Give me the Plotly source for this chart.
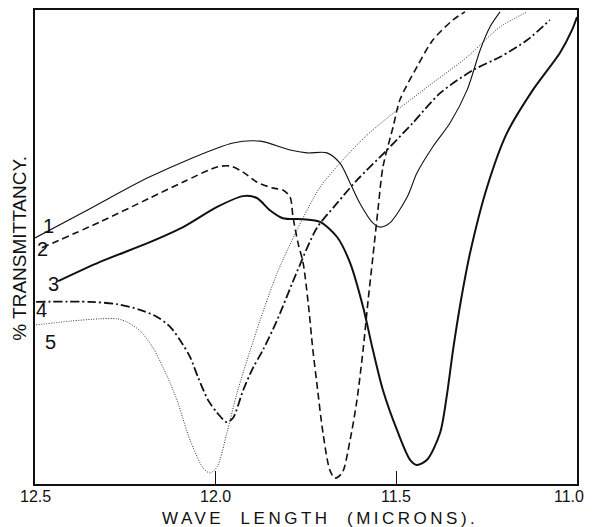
import plotly.graph_objects as go

# Wavelength (microns) and % transmittancy
x1 = [12.5, 12.348, 12.182, 11.952, 11.877, 11.794, 11.747, 11.692, 11.656, 11.628, 11.601,
      11.565, 11.545, 11.518, 11.470, 11.443, 11.399, 11.351, 11.304, 11.268, 11.241, 11.213]
y1 = [51.5, 57.7, 64.5, 71.7, 72.1, 70.2, 69.6, 69.6, 67.4, 63.2, 58.9,
      54.7, 53.8, 54.7, 60.2, 65.3, 70.9, 76.0, 83.0, 91.5, 96.4, 99.6]

x2 = [12.481, 12.320, 12.182, 12.090, 11.996, 11.960, 11.924, 11.886, 11.841, 11.814, 11.794,
      11.786, 11.772, 11.758, 11.744, 11.731, 11.720, 11.703, 11.684, 11.670, 11.650, 11.628,
      11.609, 11.592, 11.578, 11.565, 11.551, 11.537, 11.509, 11.490, 11.443, 11.399, 11.343, 11.310]
y2 = [49.4, 54.9, 60.0, 63.4, 66.6, 66.8, 65.5, 63.4, 62.1, 61.7, 60.2,
      56.0, 50.4, 46.2, 37.7, 27.7, 20.6, 10.0, 2.1, 0.4, 1.5, 8.5,
      17.0, 27.7, 38.3, 47.4, 57.4, 66.6, 75.1, 80.9, 87.9, 93.6, 97.9, 99.6]

x3 = [12.436, 12.320, 12.182, 12.090, 11.996, 11.924, 11.886, 11.850, 11.814, 11.758, 11.711,
      11.664, 11.628, 11.592, 11.565, 11.537, 11.498, 11.462, 11.443, 11.415, 11.379, 11.360,
      11.343, 11.321, 11.296, 11.249, 11.194, 11.122, 11.047, 11.014, 11.0]
y3 = [42.3, 46.4, 50.6, 53.8, 58.1, 60.4, 60.0, 57.4, 55.7, 55.5, 54.9,
      51.7, 46.2, 36.8, 27.7, 19.1, 10.6, 4.3, 3.2, 4.3, 10.0, 18.1,
      27.7, 38.3, 48.3, 62.3, 73.8, 83.0, 90.9, 95.7, 98.5]

x4 = [12.497, 12.348, 12.273, 12.209, 12.162, 12.126, 12.099, 12.071, 12.049, 12.021, 11.996,
      11.969, 11.952, 11.924, 11.897, 11.869, 11.830, 11.775, 11.720, 11.664, 11.609, 11.526,
      11.454, 11.379, 11.288, 11.213, 11.138, 11.075]
y4 = [37.9, 37.9, 37.4, 36.2, 34.7, 32.6, 29.8, 26.2, 21.9, 17.0, 14.3,
      12.3, 13.2, 19.1, 23.8, 27.7, 34.0, 44.3, 53.6, 58.9, 63.8, 70.2,
      76.0, 82.3, 87.2, 90.0, 93.6, 97.9]

x5 = [12.497, 12.403, 12.320, 12.273, 12.245, 12.209, 12.173, 12.146, 12.132, 12.107, 12.071,
      12.035, 12.016, 11.996, 11.969, 11.941, 11.913, 11.877, 11.830, 11.775, 11.711, 11.648,
      11.581, 11.498, 11.399, 11.304, 11.213, 11.138]
y5 = [33.0, 33.8, 34.3, 34.3, 33.6, 31.7, 28.1, 24.0, 21.7, 17.0, 8.5,
      2.6, 1.5, 2.8, 10.0, 18.5, 25.5, 34.0, 44.0, 53.2, 62.3, 68.1,
      73.4, 78.7, 84.5, 90.0, 96.4, 99.6]

curve_labels = ["1", "2", "3", "4", "5"]
label_x = [12.464, 12.478, 12.450, 12.481, 12.458]
label_y = [54.0, 49.1, 41.7, 36.2, 29.4]

tick_vals = [12.5, 12.0, 11.5, 11.0]
tick_text = ["12.5", "12.0", "11.5", "11.0"]

FONT = "Liberation Sans"
INK = "#111111"

series = [
    (x1, y1, dict(color=INK, width=1.1, dash="solid")),
    (x2, y2, dict(color=INK, width=1.6, dash="7px,4px")),
    (x3, y3, dict(color=INK, width=2.0, dash="solid")),
    (x4, y4, dict(color=INK, width=1.8, dash="9px,3px,2px,3px")),
    (x5, y5, dict(color="#333333", width=1.0, dash="1px,1.5px")),
]

fig = go.Figure()
for xs, ys, ln in series:
    fig.add_trace(go.Scatter(x=xs, y=ys, mode="lines",
                             line=dict(shape="spline", smoothing=0.8, **ln),
                             showlegend=False, hoverinfo="skip"))

for t, lx, ly in zip(curve_labels, label_x, label_y):
    fig.add_annotation(x=lx, y=ly, xref="x", yref="y", text=t, showarrow=False,
                       xanchor="center", yanchor="middle",
                       font=dict(family=FONT, size=20, color=INK))

# tick labels drawn as annotations at the tick values; the last one is right-aligned
# so it stays inside the window
for i, (tv, tt) in enumerate(zip(tick_vals, tick_text)):
    last = i == len(tick_vals) - 1
    fig.add_annotation(x=tv, y=-0.027, xref="x", yref="paper", text=tt, showarrow=False,
                       xanchor="right" if last else "center",
                       xshift=9 if last else 0, yanchor="middle",
                       font=dict(family=FONT, size=16, color=INK))

fig.add_annotation(x=-0.028, y=0.498, xref="paper", yref="paper",
                   text="% TRANSMITTANCY.", textangle=-90, showarrow=False,
                   xanchor="center", yanchor="middle",
                   font=dict(family=FONT, size=19, color=INK))
fig.add_annotation(x=0.526, y=-0.072, xref="paper", yref="paper",
                   text='<span style="letter-spacing:3.5px">WAVE  LENGTH  (MICRONS).</span>',
                   showarrow=False, xanchor="center", yanchor="middle",
                   font=dict(family=FONT, size=17, color=INK))

fig.update_xaxes(range=[12.5, 11.0], tickvals=tick_vals, showticklabels=False,
                 ticks="inside", ticklen=13, tickcolor=INK, tickwidth=1.2,
                 showline=True, linecolor=INK, linewidth=1.5, mirror=True,
                 showgrid=False, zeroline=False, automargin=False)
fig.update_yaxes(range=[-0.85, 100], showticklabels=False, ticks="",
                 showline=True, linecolor=INK, linewidth=1.5, mirror=True,
                 showgrid=False, zeroline=False, automargin=False)

fig.update_layout(width=592, height=527, margin=dict(l=27, r=23, t=2, b=51),
                  plot_bgcolor="white", paper_bgcolor="white")

fig.write_html("out.html")
